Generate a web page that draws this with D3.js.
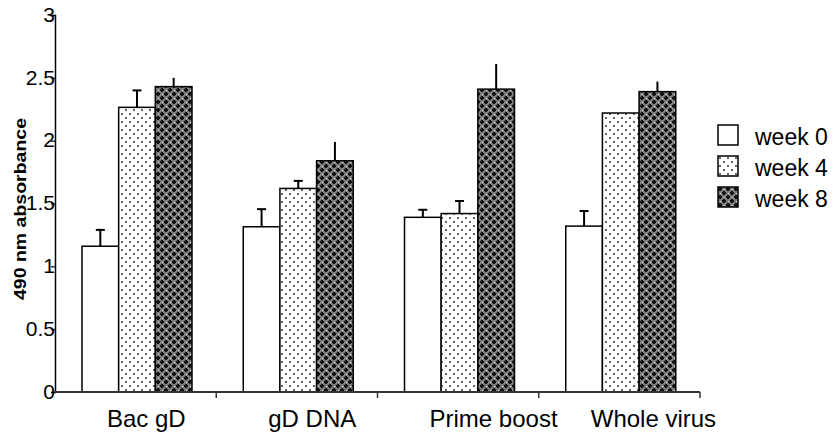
<!DOCTYPE html>
<html>
<head>
<meta charset="utf-8">
<script src="https://cdn.jsdelivr.net/npm/d3@7"></script>
<style>
  body { margin: 0; background: #fff; }
  svg { display: block; font-family: Arial, "Liberation Sans", sans-serif; }
</style>
</head>
<body>
<svg id="chart"></svg>
<script>
var groups = ["Bac gD", "gD DNA", "Prime boost", "Whole virus"];
var series = ["week 0", "week 4", "week 8"];
var week0 = [1.16, 1.315, 1.39, 1.32];
var week4 = [2.265, 1.62, 1.42, 2.22];
var week8 = [2.43, 1.84, 2.41, 2.39];
var err0 = [0.13, 0.14, 0.06, 0.12];
var err4 = [0.135, 0.06, 0.10, 0];
var err8 = [0.07, 0.15, 0.20, 0.08];
var yTicks = [0, 0.5, 1, 1.5, 2, 2.5, 3];

var width = 840,
    height = 437;
var capWidth = [9, 9, 0];

var svg = d3.select("#chart")
    .attr("width", width)
    .attr("height", height);

// patterns
var defs = svg.append("defs");
var dots = defs.append("pattern")
    .attr("id", "dots")
    .attr("patternUnits", "userSpaceOnUse")
    .attr("width", 8).attr("height", 8);
dots.append("rect").attr("width", 8).attr("height", 8).attr("fill", "#fff");
dots.append("rect").attr("x", 1).attr("y", 1).attr("width", 2).attr("height", 2).attr("fill", "#666");
dots.append("rect").attr("x", 5).attr("y", 5).attr("width", 2).attr("height", 2).attr("fill", "#666");

var dark = defs.append("pattern")
    .attr("id", "dark")
    .attr("patternUnits", "userSpaceOnUse")
    .attr("width", 8).attr("height", 8);
dark.append("rect").attr("width", 8).attr("height", 8).attr("fill", "#7c7c7c");
[[0, 0], [4, 4]].forEach(function(c) {
    dark.append("rect").attr("x", c[0] + 1).attr("y", c[1] + 0).attr("width", 2).attr("height", 4).attr("fill", "#111");
    dark.append("rect").attr("x", c[0] + 0).attr("y", c[1] + 1).attr("width", 4).attr("height", 2).attr("fill", "#111");
});
dark.append("rect").attr("x", 6).attr("y", 2).attr("width", 1).attr("height", 1).attr("fill", "#eee");
dark.append("rect").attr("x", 2).attr("y", 6).attr("width", 1).attr("height", 1).attr("fill", "#eee");

var fills = ["#fff", "url(#dots)", "url(#dark)"];

var x = d3.scaleBand()
    .domain(groups)
    .range([55, 700]);

var x1 = d3.scaleBand()
    .domain(series)
    .range([27, 137]);

var y = d3.scaleLinear()
    .domain([0, 3])
    .range([392, 15]);

var values = [week0, week4, week8];
var errors = [err0, err4, err8];

var data = [];
groups.forEach(function(g, i) {
    series.forEach(function(s, j) {
        data.push({ group: g, series: s, idx: j, value: values[j][i], err: errors[j][i] });
    });
});

var bars = svg.append("g").attr("class", "bars");

// error bars (up only)
bars.selectAll("line.err")
    .data(data.filter(function(d) { return d.err > 0; }))
    .enter().append("line")
    .attr("class", "err")
    .attr("x1", function(d) { return x(d.group) + x1(d.series) + x1.bandwidth() / 2; })
    .attr("x2", function(d) { return x(d.group) + x1(d.series) + x1.bandwidth() / 2; })
    .attr("y1", function(d) { return y(d.value); })
    .attr("y2", function(d) { return y(d.value + d.err); })
    .attr("stroke", "#000")
    .attr("stroke-width", 2);

bars.selectAll("line.cap")
    .data(data.filter(function(d) { return d.err > 0 && capWidth[d.idx] > 0; }))
    .enter().append("line")
    .attr("class", "cap")
    .attr("x1", function(d) { return x(d.group) + x1(d.series) + x1.bandwidth() / 2 - capWidth[d.idx] / 2; })
    .attr("x2", function(d) { return x(d.group) + x1(d.series) + x1.bandwidth() / 2 + capWidth[d.idx] / 2; })
    .attr("y1", function(d) { return y(d.value + d.err); })
    .attr("y2", function(d) { return y(d.value + d.err); })
    .attr("stroke", "#000")
    .attr("stroke-width", 2);

bars.selectAll("rect")
    .data(data)
    .enter().append("rect")
    .attr("x", function(d) { return x(d.group) + x1(d.series); })
    .attr("y", function(d) { return y(d.value); })
    .attr("width", x1.bandwidth())
    .attr("height", function(d) { return y(0) - y(d.value); })
    .attr("fill", function(d) { return fills[d.idx]; })
    .attr("stroke", "#000")
    .attr("stroke-width", 1.5);

// y axis
var yAxis = svg.append("g")
    .attr("transform", "translate(55,0)")
    .call(d3.axisLeft(y).tickValues(yTicks).tickSize(4).tickPadding(0)
        .tickFormat(function(d) { return d; }));
yAxis.select(".domain").attr("stroke", "#000").attr("stroke-width", 1.5);
yAxis.selectAll(".tick line").attr("stroke", "#000").attr("stroke-width", 1.2);
yAxis.selectAll(".tick text")
    .attr("font-size", 21)
    .attr("fill", "#000")
    .attr("dx", 4)
    .attr("dy", "0.3em");

// x axis
var xAxis = svg.append("g")
    .attr("transform", "translate(0,392)");
xAxis.append("line")
    .attr("x1", 55).attr("x2", 700)
    .attr("stroke", "#333").attr("stroke-width", 2);
xAxis.selectAll("line.tick")
    .data(groups)
    .enter().append("line")
    .attr("class", "tick")
    .attr("x1", function(d) { return x(d) + x.bandwidth(); })
    .attr("x2", function(d) { return x(d) + x.bandwidth(); })
    .attr("y1", 0).attr("y2", 6)
    .attr("stroke", "#333").attr("stroke-width", 1.5);
xAxis.selectAll("text")
    .data(groups)
    .enter().append("text")
    .attr("x", function(d) { return x(d) + 52; })
    .attr("y", 35)
    .attr("font-size", 24)
    .attr("fill", "#000")
    .text(function(d) { return d; });

// y title
svg.append("text")
    .attr("transform", "translate(26,209) rotate(-90)")
    .attr("text-anchor", "middle")
    .attr("font-size", 16)
    .attr("font-weight", "bold")
    .attr("fill", "#000")
    .attr("textLength", 182)
    .attr("lengthAdjust", "spacingAndGlyphs")
    .text("490 nm absorbance");

// legend
var legend = svg.append("g").attr("class", "legend")
    .selectAll("g")
    .data(series)
    .enter().append("g")
    .attr("transform", function(d, i) { return "translate(718," + (125 + i * 31) + ")"; });
legend.append("rect")
    .attr("width", 20).attr("height", 20)
    .attr("fill", function(d, i) { return fills[i]; })
    .attr("stroke", "#000")
    .attr("stroke-width", 1.5);
legend.append("text")
    .attr("x", 37).attr("y", 20)
    .attr("font-size", 23)
    .attr("fill", "#000")
    .text(function(d) { return d; });
</script>
</body>
</html>
